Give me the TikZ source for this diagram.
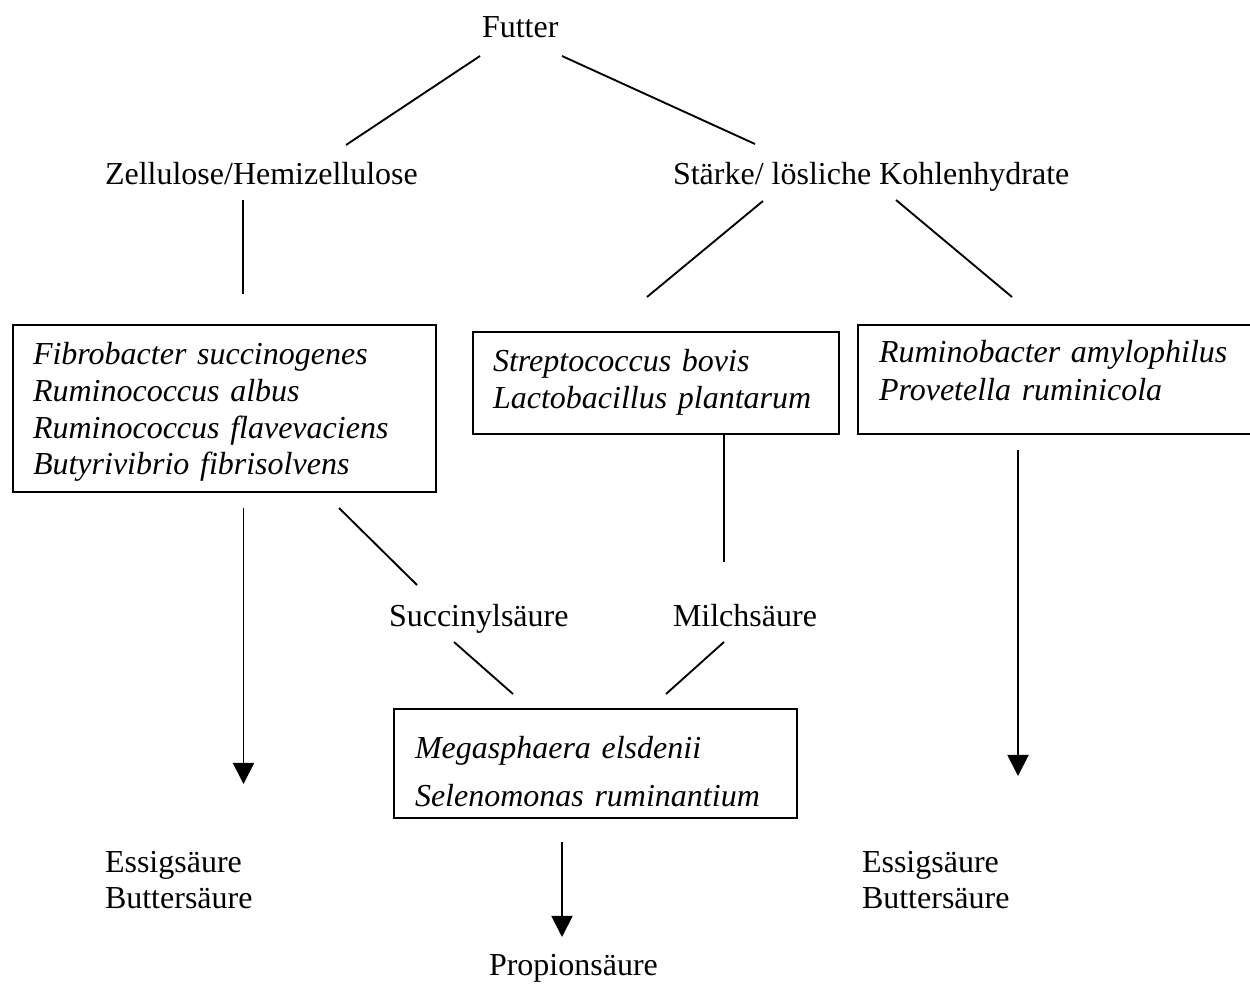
\documentclass[tikz,border=0pt]{standalone}
\usepackage{fontspec}
\setmainfont{Liberation Serif}
\usetikzlibrary{arrows.meta}
\tikzset{
  feed-label/.style={inner sep=0pt, outer sep=0pt, anchor=base west,
    font=\fontsize{12pt}{13.5pt}\selectfont},
  microbe-box/.style={draw=black, line width=0.75pt, inner ysep=0pt, inner xsep=7.5pt,
    outer sep=0pt, anchor=base west, align=left},
  feed-link/.style={line width=0.7pt},
  feed-flow/.style={line width=0.7pt, -{Triangle[length=7.9pt, width=7.9pt]}}
}

\begin{document}
\begin{tikzpicture}[x=0.375pt, y=-0.375pt]
  \useasboundingbox (0,0) rectangle (1250,987);

  % Substrates
  \node[feed-label] (futter) at (482,38) {Futter};
  \node[feed-label] (zell) at (105,185) {Zellulose/Hemizellulose};
  \node[feed-label] (staerke) at (673,185) {Stärke/ lösliche Kohlenhydrate};

  % Microbe boxes
  \node[microbe-box, text width=143.6pt, text height=15pt, text depth=47.6pt,
    font=\fontsize{12pt}{13.75pt}\selectfont\itshape] (fibro) at (13,365)
    {Fibrobacter succinogenes\\Ruminococcus albus\\Ruminococcus flavevaciens\\Butyrivibrio fibrisolvens};
  \node[microbe-box, text width=122.25pt, text height=15pt, text depth=23.25pt,
    font=\fontsize{12pt}{13.5pt}\selectfont\itshape] (strepto) at (473,372)
    {Streptococcus bovis\\Lactobacillus plantarum};
  \node[microbe-box, inner xsep=7.875pt, text width=135.75pt, text height=14.25pt, text depth=26.6pt,
    font=\fontsize{12pt}{13.9pt}\selectfont\itshape] (rumino) at (858,363)
    {Ruminobacter amylophilus\\Provetella ruminicola};
  \node[microbe-box, inner xsep=7.875pt, text width=135.4pt, text height=18.4pt, text depth=22.5pt,
    font=\fontsize{12pt}{18pt}\selectfont\itshape] (mega) at (394,758)
    {Megasphaera elsdenii\\Selenomonas ruminantium};

  % Intermediates and products
  \node[feed-label] (succ) at (389,626) {Succinylsäure};
  \node[feed-label] (milch) at (673,626) {Milchsäure};
  \node[feed-label, text width=60pt, align=left] (vfa-left) at (105,872) {Essigsäure\\Buttersäure};
  \node[feed-label, text width=60pt, align=left] (vfa-right) at (862,872) {Essigsäure\\Buttersäure};
  \node[feed-label] (propion) at (489,975) {Propionsäure};

  % Line ends
  \coordinate (futter-l) at (480,56);   \coordinate (zell-top) at (346,145);
  \coordinate (futter-r) at (562,56);   \coordinate (staerke-top) at (755,144);
  \coordinate (zell-bot) at (243,200);  \coordinate (fibro-top) at (243,294);
  \coordinate (staerke-l) at (763,201); \coordinate (strepto-top) at (647,297);
  \coordinate (staerke-r) at (896,200); \coordinate (rumino-top) at (1012,297);
  \coordinate (strepto-bot) at (724,434); \coordinate (milch-top) at (724,562);
  \coordinate (fibro-bot) at (339,508); \coordinate (succ-top) at (417,585);
  \coordinate (succ-bot) at (454,642);  \coordinate (mega-tl) at (513,694);
  \coordinate (milch-bot) at (724,642); \coordinate (mega-tr) at (666,694);
  \coordinate (fibro-out) at (243.5,508); \coordinate (vfa-left-top) at (243.5,784);
  \coordinate (mega-out) at (562,842);  \coordinate (propion-top) at (562,937);
  \coordinate (rumino-out) at (1018,450); \coordinate (vfa-right-top) at (1018,776);

  % Connectors
  \draw[feed-link] (futter-l) -- (zell-top);
  \draw[feed-link] (futter-r) -- (staerke-top);
  \draw[feed-link] (zell-bot) -- (fibro-top);
  \draw[feed-link] (staerke-l) -- (strepto-top);
  \draw[feed-link] (staerke-r) -- (rumino-top);
  \draw[feed-link] (strepto-bot) -- (milch-top);
  \draw[feed-link] (fibro-bot) -- (succ-top);
  \draw[feed-link] (succ-bot) -- (mega-tl);
  \draw[feed-link] (milch-bot) -- (mega-tr);

  % Arrows to end products
  \draw[feed-flow] (fibro-out) -- (vfa-left-top);
  \draw[feed-flow] (mega-out) -- (propion-top);
  \draw[feed-flow] (rumino-out) -- (vfa-right-top);
\end{tikzpicture}
\end{document}
